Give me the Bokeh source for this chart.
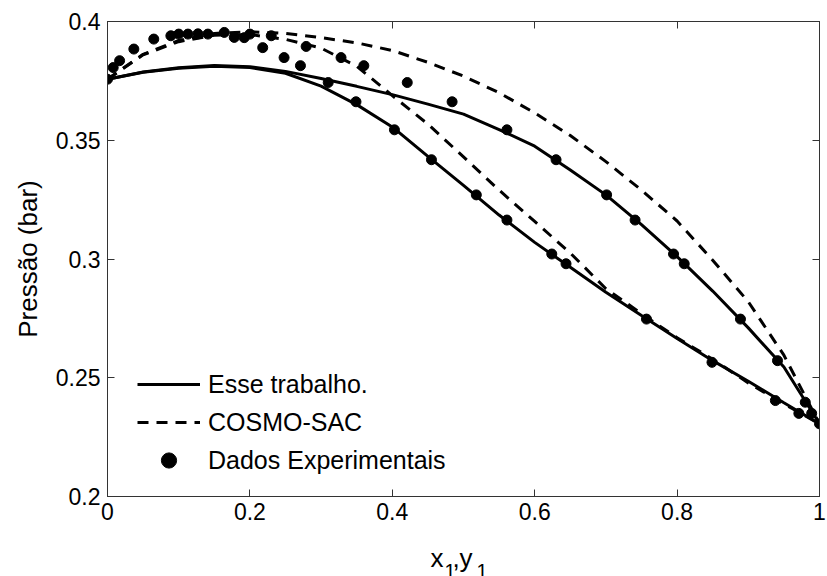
from bokeh.plotting import figure
from bokeh.models import (Range1d, FixedTicker, LinearAxis, Legend, LegendItem)
from bokeh.layouts import column
from bokeh.core.properties import value
from bokeh.embed import file_html
from bokeh.resources import INLINE

# ---- data ----
xc = [0, 0.05, 0.1, 0.15, 0.2, 0.25, 0.3, 0.35, 0.4, 0.45, 0.5,
      0.55, 0.6, 0.65, 0.7, 0.75, 0.8, 0.85, 0.9, 0.95, 1.0]
esse_bubble = [0.3757, 0.3787, 0.3805, 0.3815, 0.3810, 0.3790, 0.3760, 0.3727, 0.3692, 0.3652, 0.3610,
               0.3545, 0.3475, 0.3375, 0.3270, 0.3145, 0.3010, 0.2865, 0.2710, 0.2545, 0.2306]
esse_dew = [0.3757, 0.3786, 0.3803, 0.3812, 0.3806, 0.3782, 0.3728, 0.3650, 0.3556, 0.3432, 0.3310,
            0.3185, 0.3070, 0.2965, 0.2860, 0.2762, 0.2665, 0.2572, 0.2485, 0.2395, 0.2306]
cosmo_bubble = [0.3757, 0.3862, 0.3920, 0.3950, 0.3957, 0.3950, 0.3932, 0.3910, 0.3878, 0.3828, 0.3770,
                0.3700, 0.3615, 0.3520, 0.3410, 0.3290, 0.3160, 0.2995, 0.2820, 0.2595, 0.2306]
cosmo_dew = [0.3757, 0.3860, 0.3915, 0.3942, 0.3945, 0.3925, 0.3888, 0.3812, 0.3688, 0.3568, 0.3430,
             0.3290, 0.3158, 0.3025, 0.2875, 0.2770, 0.2668, 0.2578, 0.2478, 0.2390, 0.2306]

exp_x = [0.000, 0.008, 0.017, 0.037, 0.065, 0.089, 0.100, 0.113, 0.127, 0.141, 0.164, 0.178, 0.192,
         0.200, 0.218, 0.230, 0.248, 0.271, 0.279, 0.310, 0.328, 0.349, 0.360, 0.403, 0.421, 0.455,
         0.484, 0.518, 0.561, 0.561, 0.624, 0.630, 0.644, 0.701, 0.741, 0.757, 0.795, 0.810, 0.849,
         0.889, 0.938, 0.941, 0.971, 0.980, 0.989, 1.000]
exp_p = [0.3757, 0.3806, 0.3835, 0.3884, 0.3926, 0.3940, 0.3947, 0.3947, 0.3948, 0.3947, 0.3954, 0.3933, 0.3932,
         0.3947, 0.3890, 0.3940, 0.3848, 0.3814, 0.3895, 0.3743, 0.3848, 0.3662, 0.3814, 0.3544, 0.3743, 0.3418,
         0.3662, 0.3270, 0.3544, 0.3164, 0.3021, 0.3418, 0.2980, 0.3270, 0.3164, 0.2747, 0.3021, 0.2980, 0.2565,
         0.2747, 0.2404, 0.2572, 0.2350, 0.2397, 0.2350, 0.2306]

x_ticks = [0, 0.2, 0.4, 0.6, 0.8, 1.0]
x_tick_labels = ["0", "0.2", "0.4", "0.6", "0.8", "1"]
y_ticks = [0.2, 0.25, 0.3, 0.35, 0.4]
y_tick_labels = ["0.2", "0.25", "0.3", "0.35", "0.4"]

labels = ["Esse trabalho.", "COSMO-SAC", "Dados Experimentais"]
y_label = "Pressão (bar)"
x_label_parts = ["x", "1", ",", "y", "1"]

FONT = "Liberation Sans"
AXC = "#333333"

p = figure(width=827, height=531, output_backend="svg", toolbar_location=None,
           x_range=Range1d(0, 1), y_range=Range1d(0.2, 0.4),
           min_border_left=107, min_border_right=8, min_border_top=21, min_border_bottom=35)
p.grid.visible = False
p.outline_line_color = AXC
p.outline_line_width = 1
p.background_fill_color = "white"
p.border_fill_color = "white"

xt = FixedTicker(ticks=x_ticks, minor_ticks=[])
yt = FixedTicker(ticks=y_ticks, minor_ticks=[])

for ax in p.xaxis:
    ax.ticker = xt
    ax.major_label_overrides = {t: l for t, l in zip(x_ticks, x_tick_labels)}
for ax in p.yaxis:
    ax.ticker = yt
    ax.major_label_overrides = {t: l for t, l in zip(y_ticks, y_tick_labels)}

for ax in list(p.xaxis) + list(p.yaxis):
    ax.major_tick_in = 7
    ax.major_tick_out = 0
    ax.minor_tick_in = 0
    ax.minor_tick_out = 0
    ax.axis_line_color = AXC
    ax.major_tick_line_color = AXC
    ax.major_label_text_font = FONT
    ax.major_label_text_font_size = "23px"
    ax.major_label_text_color = "black"

p.xaxis.major_label_standoff = 6
p.yaxis.major_label_standoff = 7
p.yaxis.axis_label = y_label
p.yaxis.axis_label_text_font = FONT
p.yaxis.axis_label_text_font_size = "26px"
p.yaxis.axis_label_text_font_style = "normal"
p.yaxis.axis_label_text_color = "black"
p.yaxis.axis_label_standoff = 10

# box ticks on top and right (no labels)
top = LinearAxis(ticker=FixedTicker(ticks=x_ticks, minor_ticks=[]),
                 major_label_overrides={t: "" for t in x_ticks},
                 major_tick_in=7, major_tick_out=0, minor_tick_in=0, minor_tick_out=0,
                 axis_line_color=AXC, major_tick_line_color=AXC, major_label_standoff=0)
right = LinearAxis(ticker=FixedTicker(ticks=y_ticks, minor_ticks=[]),
                   major_label_overrides={t: "" for t in y_ticks},
                   major_tick_in=7, major_tick_out=0, minor_tick_in=0, minor_tick_out=0,
                   axis_line_color=AXC, major_tick_line_color=AXC, major_label_standoff=0)
p.add_layout(top, "above")
p.add_layout(right, "right")

r1 = p.line(xc, esse_bubble, line_color="black", line_width=3)
p.line(xc, esse_dew, line_color="black", line_width=3)
r2 = p.line(xc, cosmo_bubble, line_color="black", line_width=3, line_dash="11 8")
p.line(xc, cosmo_dew, line_color="black", line_width=3, line_dash="11 8")
r3 = p.scatter(exp_x, exp_p, size=10, marker="circle", fill_color="black", line_color="black")

legend = Legend(items=[LegendItem(label=labels[0], renderers=[r1]),
                       LegendItem(label=labels[1], renderers=[r2]),
                       LegendItem(label=labels[2], renderers=[r3])],
                location=(20, 7), border_line_alpha=0, background_fill_alpha=0,
                label_text_font=FONT, label_text_font_size="25px", label_text_color="black",
                glyph_width=63, glyph_height=38, label_height=38, spacing=0, label_standoff=8,
                padding=10, margin=0)
p.add_layout(legend, "center")

# strip below the plot carrying the x-axis label "x1,y1" with subscripts;
# its frame is aligned with the plot frame (pixels 107..819), so x is in page pixels
q = figure(width=827, height=45, output_backend="svg", toolbar_location=None,
           x_range=Range1d(107, 819), y_range=Range1d(0, 45),
           x_axis_type=None, y_axis_type=None, min_border=0,
           min_border_left=107, min_border_right=8)
q.grid.visible = False
q.outline_line_color = None
q.background_fill_color = "white"
q.border_fill_color = "white"
q.text(x=[430, 459], y=[19, 19], text=[x_label_parts[0], x_label_parts[3]],
       text_font=value(FONT), text_font_size="26px", text_baseline="alphabetic", text_color="black")
q.text(x=[452], y=[19], text=[x_label_parts[2]],
       text_font=value(FONT), text_font_size="26px", text_baseline="alphabetic", text_color="black")
q.text(x=[444, 476], y=[6, 6], text=[x_label_parts[1], x_label_parts[4]],
       text_font=value(FONT), text_font_size="20px", text_baseline="alphabetic", text_color="black")

layout = column(p, q, spacing=0)
open("out.html", "w").write(file_html(layout, INLINE))
